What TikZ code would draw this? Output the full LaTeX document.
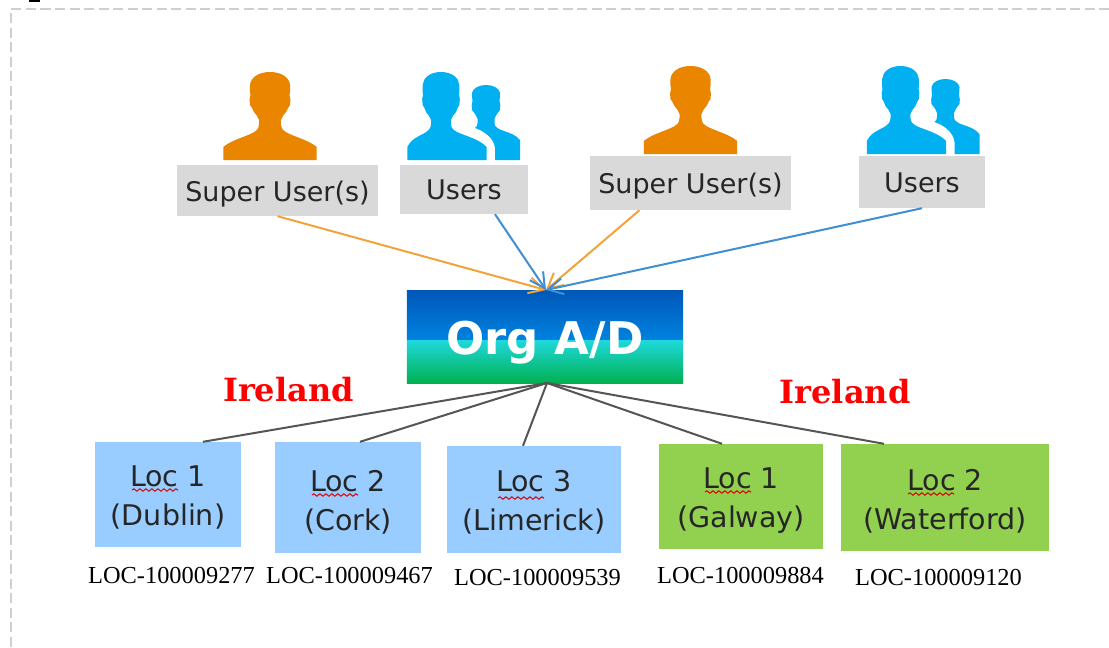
\documentclass[tikz,border=0pt]{standalone}
\usepackage{fontspec}
\setmainfont{DejaVu Sans}
\newfontfamily\lserif{Liberation Serif}
\newfontfamily\dserif{DejaVu Serif}
\usetikzlibrary{arrows.meta,calc,decorations.pathmorphing}
\definecolor{orangeicon}{HTML}{EA8500}
\definecolor{blueicon}{HTML}{00B0F0}
\definecolor{greybox}{HTML}{D9D9D9}
\definecolor{locblue}{HTML}{99CCFF}
\definecolor{locgreen}{HTML}{92D050}
\definecolor{linkorange}{HTML}{F2A33A}
\definecolor{linkblue}{HTML}{3F8FD2}
\definecolor{linkgrey}{HTML}{555555}
\definecolor{frameline}{HTML}{CFCFCF}
\definecolor{ink}{HTML}{262626}
\definecolor{orgA}{HTML}{0058B8}
\definecolor{orgB}{HTML}{0082E0}
\definecolor{orgC}{HTML}{1FD8DC}
\definecolor{orgD}{HTML}{00B050}
\newcommand{\bigperson}{%
  (46.7,0) -- (46.7,-13) .. controls (42,-17) and (36,-19.5) .. (27,-23)
  .. controls (18,-26.5) and (12,-29) .. (11.5,-33)
  .. controls (11,-36) and (10.5,-38) .. (11,-40)
  .. controls (12,-43) and (14,-46) .. (16,-48)
  .. controls (17.5,-51) and (18.5,-53) .. (20,-55)
  .. controls (20.5,-60) and (20.5,-63) .. (19.5,-65)
  .. controls (20.3,-68) and (20.3,-72) .. (20,-75)
  .. controls (19.5,-82) and (12,-88) .. (0,-88)
  .. controls (-12,-88) and (-19.5,-82) .. (-20,-75)
  .. controls (-20.3,-72) and (-20.3,-68) .. (-19.5,-65)
  .. controls (-20.5,-63) and (-20.5,-60) .. (-20,-55)
  .. controls (-18.5,-53) and (-17.5,-51) .. (-16,-48)
  .. controls (-14,-46) and (-12,-43) .. (-11,-40)
  .. controls (-10.5,-38) and (-11,-36) .. (-11.5,-33)
  .. controls (-12,-29) and (-18,-26.5) .. (-27,-23)
  .. controls (-36,-19.5) and (-42,-17) .. (-46.7,-13)
  -- (-46.7,0) -- cycle}
\newcommand{\userperson}{%
  (45.7,0) -- (45.7,-13) .. controls (41,-18) and (34,-21) .. (26,-24)
  .. controls (18,-27) and (12,-29) .. (10.5,-33)
  .. controls (10,-36) and (9.5,-38) .. (10,-40)
  .. controls (11,-43) and (13,-46) .. (15,-48)
  .. controls (16,-51) and (17,-53) .. (18.3,-55)
  .. controls (19,-60) and (19,-63) .. (18,-65)
  .. controls (18.6,-68) and (18.6,-72) .. (18.3,-75)
  .. controls (18,-82) and (11,-88) .. (0,-88)
  .. controls (-11,-88) and (-18,-82) .. (-18.3,-75)
  .. controls (-18.6,-72) and (-18.6,-68) .. (-18,-65)
  .. controls (-19,-63) and (-19,-60) .. (-18.3,-55)
  .. controls (-17,-53) and (-16,-51) .. (-15,-48)
  .. controls (-13,-46) and (-11,-43) .. (-10,-40)
  .. controls (-9.5,-38) and (-10,-36) .. (-10.5,-33)
  .. controls (-12,-29) and (-16,-27) .. (-22,-24)
  .. controls (-28,-21) and (-31,-18) .. (-33.7,-13)
  -- (-33.7,0) -- cycle}
\newcommand{\smallperson}{%
  (9,0) -- (34,0) -- (34,-20) .. controls (30,-25) and (24,-27) .. (18,-29)
  .. controls (12,-31) and (9,-33) .. (8.5,-36)
  -- (8.5,-41) .. controls (10,-45) and (12,-48) .. (14,-50)
  .. controls (14.5,-53) and (14.5,-56) .. (13.5,-59)
  .. controls (14,-62) and (14,-65) .. (14,-67)
  .. controls (13,-72) and (7,-75) .. (0,-75)
  .. controls (-7,-75) and (-13,-72) .. (-14,-67)
  .. controls (-14,-65) and (-14,-62) .. (-13.5,-59)
  .. controls (-14.5,-56) and (-14.5,-53) .. (-14,-50)
  .. controls (-12,-48) and (-10,-45) .. (-8.5,-41)
  -- (-8.5,-37) .. controls (-8.5,-35) and (-9,-33.5) .. (-11,-32)
  .. controls (-2,-29) and (8,-22) .. (9,-12) -- cycle}
\newcommand{\placed}[2]{\raisebox{#1pt}[0pt][0pt]{#2}}
\newcommand{\twolines}[3][-30.5]{\raisebox{#1pt}[0pt][0pt]{\begin{tabular}[b]{@{}c@{}}#2\\#3\end{tabular}}}
\tikzset{
  x=1pt,y=-1pt,
  labelbox/.style={inner sep=0pt,text=ink,font=\fontsize{27}{32}\selectfont},
  locbox/.style={inner sep=0pt,text=ink,font=\fontsize{28.5}{39}\selectfont},
  loclabel/.style={inner sep=0pt,text=black,font=\lserif\fontsize{24.4}{28}\selectfont},
  region/.style={inner sep=0pt,text=red,font=\dserif\bfseries\fontsize{32}{36}\selectfont},
  feedorange/.style={draw=linkorange,line width=2pt,-{Straight Barb[length=15pt,width=16pt]}},
  feedblue/.style={draw=linkblue,line width=2pt,-{Straight Barb[length=15pt,width=16pt]}},
  spoke/.style={draw=linkgrey,line width=2pt},
  squiggle/.style={draw=red!85!black,line width=1pt,decorate,decoration={snake,amplitude=1.2pt,segment length=6pt}},
}
\newcommand{\boxat}[7]{\node[#1,fill=#2,minimum width=#5-#4,minimum height=#7-#6] (#3) at ({(#4+#5)/2},{(#6+#7)/2})}
\begin{document}
\begin{tikzpicture}
\useasboundingbox (0,0) rectangle (1109,648);
\fill[white] (0,0) rectangle (1109,648);
% frame
\draw[frameline,line width=2pt,dash pattern=on 10pt off 4.5pt] (1109,9) -- (11,9) -- (11,648);
\fill[black] (29,0) rectangle (40,2);
% icons
\fill[orangeicon,shift={(270,160)}] \bigperson;
\fill[blueicon,shift={(441,160)}] \userperson;
\fill[blueicon,shift={(486,160)}] \smallperson;
\fill[orangeicon,shift={(690.5,154)}] \bigperson;
\fill[blueicon,shift={(900.5,154)}] \userperson;
\fill[blueicon,shift={(945.5,154)}] \smallperson;
% label boxes
\boxat{labelbox}{greybox}{su1}{177}{378}{165}{216} {\placed{-10.5}{Super User(s)}};
\boxat{labelbox}{greybox}{us1}{400}{528}{165}{214} {\placed{-10}{Users}};
\boxat{labelbox}{greybox}{su2}{590}{791}{156}{210} {\placed{-10}{Super User(s)}};
\boxat{labelbox}{greybox}{us2}{859}{985}{156}{208} {\placed{-10}{Users}};
% org box
\node[inner sep=0pt,minimum width=276pt,minimum height=92pt] (org) at (545,337) {};
\shade[top color=orgA,bottom color=orgB] (org.north west) rectangle ($(org.east)+(0,3)$);
\shade[top color=orgC,bottom color=orgD] ($(org.west)+(0,3)$) rectangle (org.south east);
\node[inner sep=0pt,text=white,font=\bfseries\fontsize{45}{50}\selectfont] (orgtext) at (545,343) {Org A/D};
% location boxes
\boxat{locbox}{locblue}{l1}{95}{241}{442}{547} {\twolines{Loc 1}{(Dublin)}};
\boxat{locbox}{locblue}{l2}{275}{421}{442}{553} {\twolines[-32.5]{Loc 2}{(Cork)}};
\boxat{locbox}{locblue}{l3}{447}{621}{446}{553} {\twolines[-31]{Loc 3}{(Limerick)}};
\boxat{locbox}{locgreen}{l4}{659}{823}{444}{549} {\twolines{Loc 1}{(Galway)}};
\boxat{locbox}{locgreen}{l5}{841}{1049}{444}{551} {\twolines[-31.5]{Loc 2}{(Waterford)}};
% squiggles
\draw[squiggle] (132,490) -- (178,490);
\draw[squiggle] (312,495) -- (358,495);
\draw[squiggle] (498,498) -- (544,498);
\draw[squiggle] (705,492) -- (751,492);
\draw[squiggle] (908,494) -- (954,494);
% connectors
\coordinate (orgtop) at (546,290);
\coordinate (orgbot) at (547,383);
\draw[feedorange] (su1.south) -- (orgtop);
\draw[feedblue] ($(us1.south)+(31,0)$) -- (orgtop);
\draw[feedorange] ($(su2.south)+(-51,0)$) -- (orgtop);
\draw[feedblue] (us2.south) -- (orgtop);
\draw[spoke] (orgbot) -- ($(l1.north)+(35,0)$);
\draw[spoke] (orgbot) -- ($(l2.north)+(12,0)$);
\draw[spoke] (orgbot) -- ($(l3.north)+(-11,0)$);
\draw[spoke] (orgbot) -- ($(l4.north)+(-19,0)$);
\draw[spoke] (orgbot) -- ($(l5.north)+(-61,0)$);
% texts
\node[region] (ire1) at (288.5,390) {Ireland};
\node[region] (ire2) at (845,392) {Ireland};
\node[loclabel] (c1) at (171.5,575) {LOC-100009277};
\node[loclabel] (c2) at (349.5,575) {LOC-100009467};
\node[loclabel] (c3) at (537.5,577) {LOC-100009539};
\node[loclabel] (c4) at (740.5,575) {LOC-100009884};
\node[loclabel] (c5) at (938.5,577) {LOC-100009120};
\end{tikzpicture}
\end{document}
